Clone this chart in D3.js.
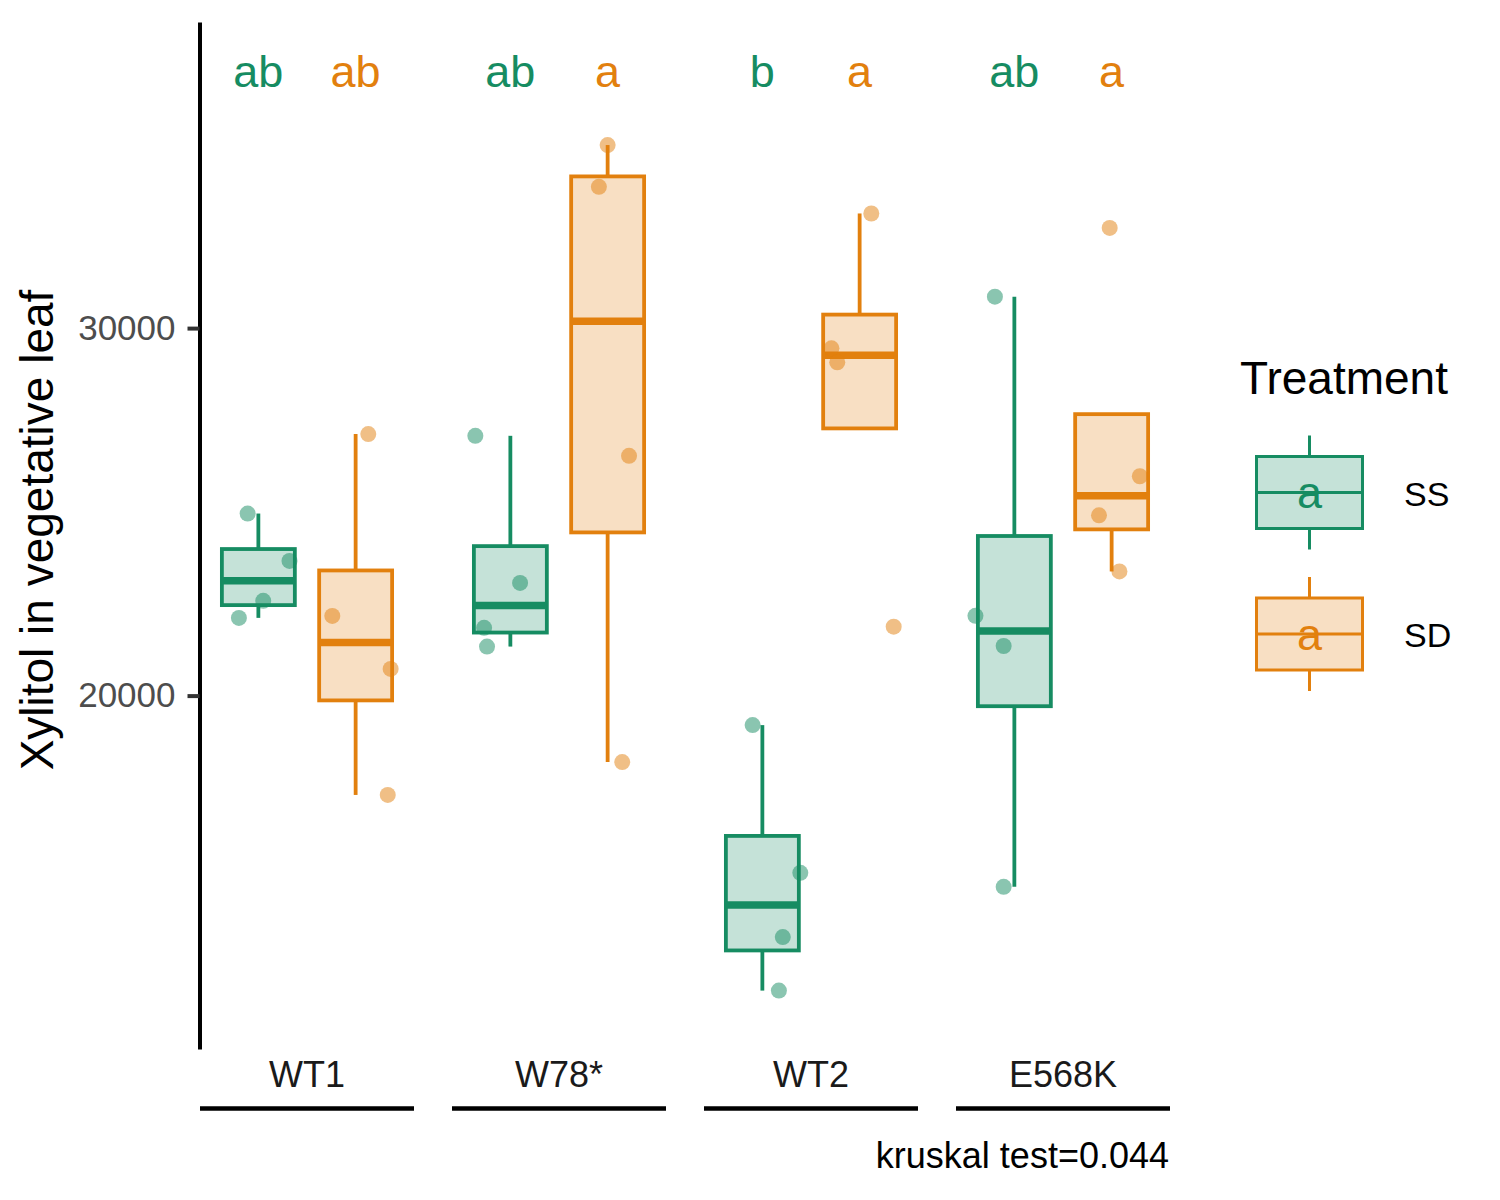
<!DOCTYPE html>
<html>
<head>
<meta charset="utf-8">
<script src="https://cdn.jsdelivr.net/npm/d3@7"></script>
<style>
  html, body { margin: 0; padding: 0; background: #ffffff; }
  svg { display: block; font-family: "Liberation Sans", Arial, Helvetica, sans-serif; }
</style>
</head>
<body>
<svg id="chart" width="1500" height="1200"></svg>
<script>
// ---------------- data ----------------
const genotypes = ["WT1", "W78*", "WT2", "E568K"];
const treatments = ["SS", "SD"];
const ssValues = [
  [24954, 23666, 22578, 22115],
  [27069, 23067, 21843, 21334],
  [19197, 15177, 13430, 11973],
  [30855, 22172, 21350, 14796]
];
const sdValues = [
  [27115, 22169, 20727, 17297],
  [34981, 33843, 26524, 18190],
  [33119, 29450, 29069, 21875],
  [32727, 25969, 24905, 23378]
];
// horizontal jitter (in treatment-step units)
const ssJitter = [
  [-0.11, 0.32, 0.05, -0.20],
  [-0.36, 0.10, -0.27, -0.24],
  [-0.10, 0.39, 0.21, 0.17],
  [-0.20, -0.40, -0.11, -0.11]
];
const sdJitter = [
  [0.13, -0.24, 0.36, 0.33],
  [0.00, -0.09, 0.22, 0.15],
  [0.12, -0.29, -0.23, 0.35],
  [-0.02, 0.29, -0.13, 0.08]
];
const ssLetters = ["ab", "ab", "b", "ab"];
const sdLetters = ["ab", "a", "a", "a"];
const letterLevel = 37000;
const yTicks = [20000, 30000];
const yTitle = "Xylitol in vegetative leaf";
const legendTitle = "Treatment";
const caption = "kruskal test=0.044";

// ---------------- setup ----------------
const colors = { SS: "#168C62", SD: "#E2800E" };
const svg = d3.select("#chart");

const panelX = d3.scaleBand().domain(genotypes).range([200, 1170]).paddingInner(38 / 252).paddingOuter(0);
const trtX = d3.scalePoint().domain(treatments).range([0, panelX.bandwidth()]).padding(0.6);
const step = trtX.step();
const y = d3.scaleLinear().domain([10384, 38329]).range([1049, 22]);

const series = { SS: { vals: ssValues, jit: ssJitter, letters: ssLetters },
                 SD: { vals: sdValues, jit: sdJitter, letters: sdLetters } };

function stats(vals) {
  const s = vals.slice().sort(d3.ascending);
  const q1 = d3.quantile(s, 0.25), med = d3.quantile(s, 0.5), q3 = d3.quantile(s, 0.75);
  const iqr = q3 - q1;
  const hi = d3.max(s.filter(v => v <= q3 + 1.5 * iqr));
  const lo = d3.min(s.filter(v => v >= q1 - 1.5 * iqr));
  return { q1, med, q3, hi: Math.max(hi, q3), lo: Math.min(lo, q1) };
}

// ---------------- panels ----------------
genotypes.forEach((g, gi) => {
  const pg = svg.append("g").attr("transform", `translate(${panelX(g)},0)`);
  treatments.forEach(t => {
    const cx = trtX(t);
    const vals = series[t].vals[gi];
    const st = stats(vals);
    const bw = 0.75 * step;
    const col = colors[t];
    // whiskers
    pg.append("line").attr("x1", cx).attr("x2", cx).attr("y1", y(st.q3)).attr("y2", y(st.hi))
      .attr("stroke", col).attr("stroke-width", 3.8);
    pg.append("line").attr("x1", cx).attr("x2", cx).attr("y1", y(st.q1)).attr("y2", y(st.lo))
      .attr("stroke", col).attr("stroke-width", 3.8);
    // box
    pg.append("rect").attr("x", cx - bw / 2).attr("width", bw)
      .attr("y", y(st.q3)).attr("height", y(st.q1) - y(st.q3))
      .attr("fill", col).attr("fill-opacity", 0.25)
      .attr("stroke", col).attr("stroke-width", 3.8);
    // median
    pg.append("line").attr("x1", cx - bw / 2).attr("x2", cx + bw / 2)
      .attr("y1", y(st.med)).attr("y2", y(st.med))
      .attr("stroke", col).attr("stroke-width", 7.5);
    // points
    pg.selectAll(null).data(vals.map((v, i) => ({ v, j: series[t].jit[gi][i] })))
      .enter().append("circle")
      .attr("cx", d => cx + d.j * step)
      .attr("cy", d => y(d.v))
      .attr("r", 8)
      .attr("fill", col).attr("fill-opacity", 0.5);
    // letters
    pg.append("text").attr("x", cx).attr("y", y(letterLevel)).attr("dy", "0.35em")
      .attr("text-anchor", "middle").attr("font-size", 45).attr("fill", col)
      .text(series[t].letters[gi]);
  });
  // strip label + underline
  pg.append("text").attr("x", panelX.bandwidth() / 2).attr("y", 1087)
    .attr("text-anchor", "middle").attr("font-size", 36).attr("fill", "#1a1a1a").text(g);
  pg.append("line").attr("x1", 0).attr("x2", panelX.bandwidth()).attr("y1", 1108.5).attr("y2", 1108.5)
    .attr("stroke", "#000").attr("stroke-width", 4.5);
});

// ---------------- y axis ----------------
const yAxis = d3.axisLeft(y).tickValues(yTicks).tickFormat(d3.format("d"))
  .tickSize(12).tickSizeOuter(0).tickPadding(12);
const ya = svg.append("g").attr("transform", "translate(199.5,0)").call(yAxis);
ya.select(".domain").attr("stroke", "#000").attr("stroke-width", 4);
ya.selectAll(".tick line").attr("stroke", "#333").attr("stroke-width", 4);
ya.selectAll(".tick text").attr("font-size", 35).attr("fill", "#4D4D4D")
  .attr("font-family", "Liberation Sans, Arial, sans-serif");

svg.append("text").attr("transform", "translate(53,530) rotate(-90)")
  .attr("text-anchor", "middle").attr("font-size", 46).attr("fill", "#000").text(yTitle);

// caption
svg.append("text").attr("x", 1169).attr("y", 1168).attr("text-anchor", "end")
  .attr("font-size", 36).attr("fill", "#000").text(caption);

// ---------------- legend ----------------
const lg = svg.append("g");
lg.append("text").attr("x", 1240).attr("y", 394).attr("font-size", 46).attr("fill", "#000").text(legendTitle);
const keyCenters = { SS: 492.5, SD: 634 };
treatments.forEach(t => {
  const col = colors[t];
  const cy = keyCenters[t];
  const kx = 1309.5;
  lg.append("line").attr("x1", kx).attr("x2", kx).attr("y1", cy - 57).attr("y2", cy + 57)
    .attr("stroke", col).attr("stroke-width", 3);
  lg.append("rect").attr("x", kx - 53).attr("y", cy - 36).attr("width", 106).attr("height", 72)
    .attr("fill", "#fff");
  lg.append("rect").attr("x", kx - 53).attr("y", cy - 36).attr("width", 106).attr("height", 72)
    .attr("fill", col).attr("fill-opacity", 0.25).attr("stroke", col).attr("stroke-width", 3);
  lg.append("line").attr("x1", kx - 53).attr("x2", kx + 53).attr("y1", cy).attr("y2", cy)
    .attr("stroke", col).attr("stroke-width", 3);
  lg.append("text").attr("x", kx).attr("y", cy).attr("dy", "0.35em").attr("text-anchor", "middle")
    .attr("font-size", 45).attr("fill", col).text("a");
  lg.append("text").attr("x", 1404).attr("y", cy + 13).attr("font-size", 34).attr("fill", "#000").text(t);
});
</script>
</body>
</html>
